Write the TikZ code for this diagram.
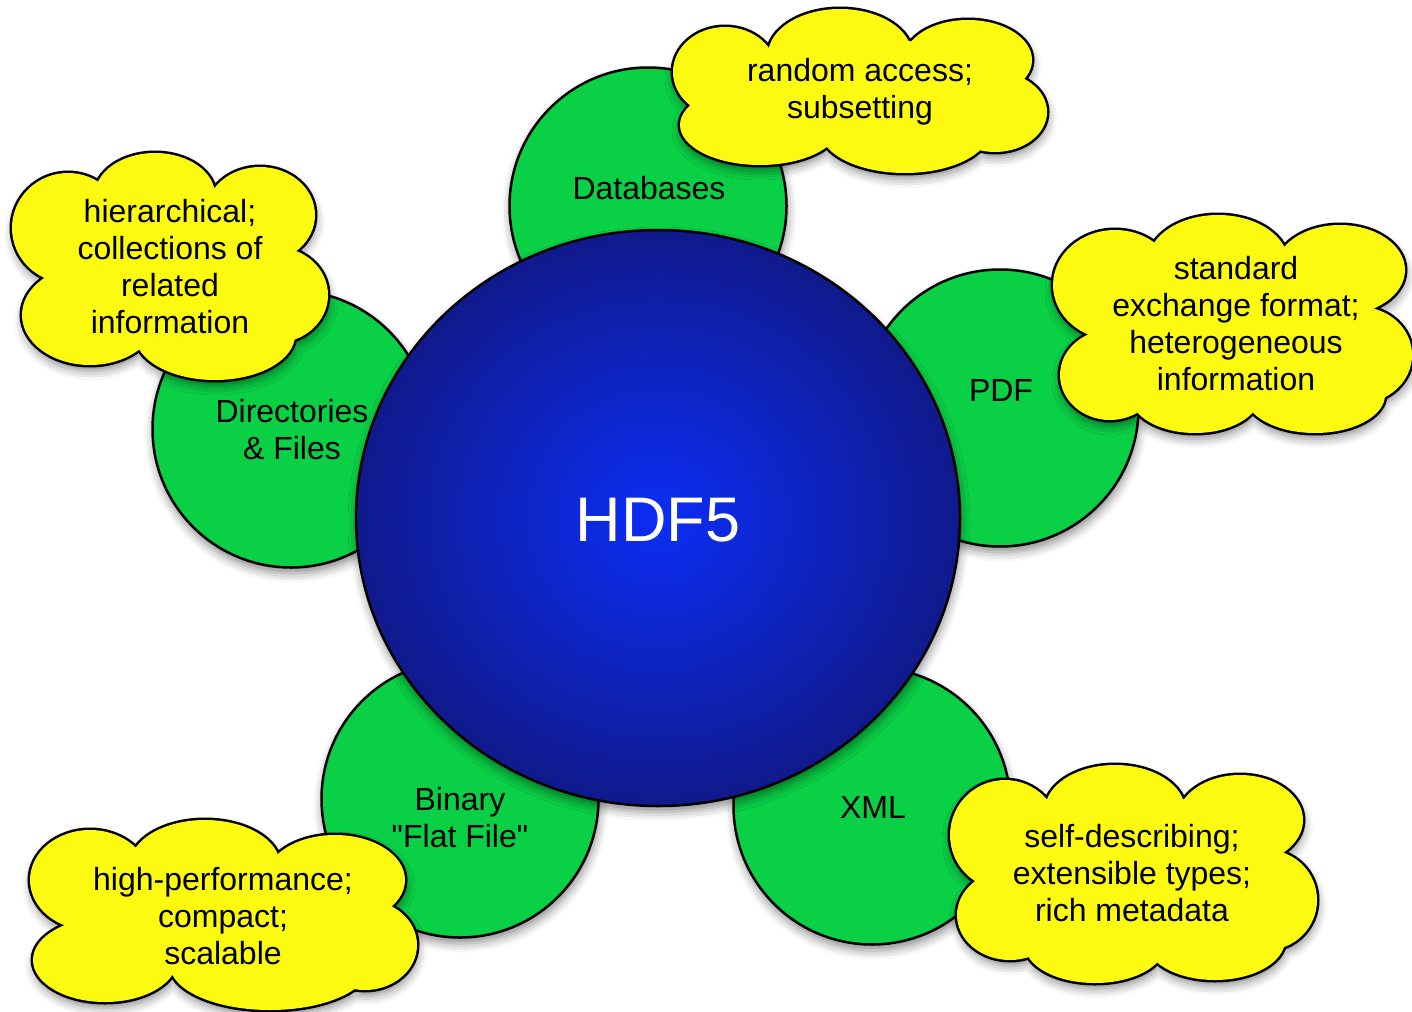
\documentclass[tikz,border=0pt]{standalone}
\usepackage{fontspec}
\setmainfont{Liberation Sans}
\usetikzlibrary{shapes.geometric,shadows.blur}
\definecolor{bubgreen}{RGB}{10,208,70}
\definecolor{cloudyellow}{RGB}{252,250,16}
\definecolor{hdfinner}{RGB}{12,46,245}
\definecolor{hdfouter}{RGB}{16,26,140}
\tikzset{
  shadowed/.style={blur shadow={shadow xshift=1pt, shadow yshift=-6pt, shadow blur radius=9pt, shadow opacity=45}},
  topic/.style={circle, draw=black, line width=2.5pt, fill=bubgreen, minimum size=277pt, inner sep=0pt, shadowed},
  core/.style={ellipse, draw=black, line width=2.5pt, inner color=hdfinner, outer color=hdfouter, minimum width=604pt, minimum height=576pt, inner sep=0pt, shadowed},
  cloudline/.style={draw=black, line width=5pt, shadowed},
  cloudfill/.style={fill=cloudyellow},
  txt/.style={font=\fontsize{32}{37}\selectfont, align=center, text=black, inner sep=0pt},
}
\newcommand{\cloudshape}[1]{\path[cloudline] #1; \path[cloudfill] #1;}
\begin{document}
\begin{tikzpicture}[x=1pt,y=-1pt]
\useasboundingbox (0,0) rectangle (1412,1011);
% green topic circles
\node[topic] (db)  at (648,206) {};
\node[topic] (dir) at (291,429) {};
\node[topic] (pdf) at (1000,408) {};
\node[topic] (bin) at (460,799) {};
\node[topic] (xml) at (872,806) {};
% central circle
\node[core] (hdf) at (658,518) {};
\node[txt, text=white, font=\fontsize{63}{70}\selectfont] (hdft) at (658,520) {HDF5};
% topic labels
\node[txt] (dbt)  at (649,188) {Databases};
\node[txt] (dirt) at (292,430) {Directories\\\& Files};
\node[txt] (pdft) at (1001,390) {PDF};
\node[txt] (bint) at (460,818) {Binary\\\textquotedbl Flat File\textquotedbl};
\node[txt] (xmlt) at (873,807) {XML};
% clouds (unions of lobes)
\cloudshape{(860,92) ellipse (130 and 55)
  (725,72) ellipse (52 and 45) (840,55) ellipse (72 and 46) (968,60) ellipse (64 and 40)
  (995,112) ellipse (52 and 40) (905,130) ellipse (85 and 43) (760,125) ellipse (80 and 40)}
\node[txt] (c1t) at (860,92) {random access;\\subsetting};
\cloudshape{(170,266) ellipse (120 and 80)
  (68,228) ellipse (56 and 55) (155,195) ellipse (60 and 42) (260,215) ellipse (55 and 48)
  (275,295) ellipse (53 and 48) (215,335) ellipse (80 and 45) (90,315) ellipse (68 and 50)}
\node[txt] (c2t) at (170,267) {hierarchical;\\collections of\\related\\information};
\cloudshape{(1235,325) ellipse (130 and 80)
  (1115,285) ellipse (62 and 55) (1218,262) ellipse (70 and 47) (1340,270) ellipse (65 and 45)
  (1360,355) ellipse (52 and 48) (1315,395) ellipse (70 and 38) (1195,395) ellipse (65 and 38)
  (1110,375) ellipse (50 and 45)}
\node[txt] (c3t) at (1236,324) {standard\\exchange format;\\heterogeneous\\information};
\cloudshape{(223,915) ellipse (150 and 60)
  (90,880) ellipse (60 and 50) (205,865) ellipse (75 and 45) (335,880) ellipse (70 and 45)
  (365,945) ellipse (52 and 45) (270,965) ellipse (100 and 45) (105,960) ellipse (72 and 42)}
\node[txt] (c4t) at (223,916) {high-performance;\\compact;\\scalable};
\cloudshape{(1133,873) ellipse (130 and 80)
  (1005,835) ellipse (55 and 55) (1115,810) ellipse (70 and 45) (1240,820) ellipse (63 and 45)
  (1267,900) ellipse (50 and 50) (1215,940) ellipse (70 and 40) (1095,945) ellipse (70 and 38)
  (1010,915) ellipse (53 and 45)}
\node[txt] (c5t) at (1132,873) {self-describing;\\extensible types;\\rich metadata};
\end{tikzpicture}
\end{document}
